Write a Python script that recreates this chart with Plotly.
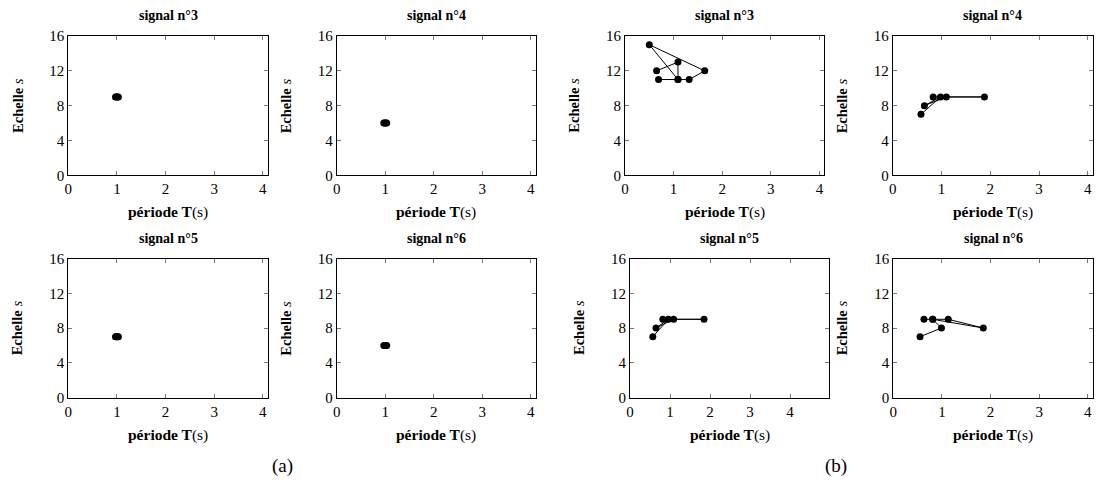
import plotly.graph_objects as go

# ---------------- data ----------------
titles = ["signal n°3", "signal n°4", "signal n°5", "signal n°6"]

# (a) panels: points clustered around T = 1 s
a3_T = [0.97, 0.99, 1.01, 1.03]
a3_s = [9, 9, 9, 9]
a4_T = [0.97, 0.99, 1.01, 1.03]
a4_s = [6, 6, 6, 6]
a5_T = [0.97, 0.99, 1.01, 1.03]
a5_s = [7, 7, 7, 7]
a6_T = [0.97, 0.99, 1.01, 1.03]
a6_s = [6, 6, 6, 6]

# (b) panels
b3_T = [0.65, 1.09, 1.09, 0.50, 1.64, 1.32, 1.09, 0.69]
b3_s = [12, 13, 11, 15, 12, 11, 11, 11]
b4_T = [0.83, 1.88, 1.10, 0.65, 0.98, 0.58]
b4_s = [9, 9, 9, 8, 9, 7]
b5_T = [0.82, 1.85, 1.09, 0.65, 0.96, 0.57]
b5_s = [9, 9, 9, 8, 9, 7]
b6_T = [0.55, 0.99, 0.81, 1.85, 1.13, 0.81, 0.63]
b6_s = [7, 8, 9, 8, 9, 9, 9]

x_ticks = [0, 1, 2, 3, 4]
y_ticks = [0, 4, 8, 12, 16]
x_range_default = [0, 4.1]
x_range_b5 = [0, 4.98]
y_range = [0, 16]

# ---------------- layout geometry (pixels) ----------------
W, H = 1096, 496
FONT = "Liberation Serif"

panels = [
    # (T, s, left, right, top, bottom, title, xrange)
    (a3_T, a3_s, 68.3, 267.7, 36.0, 175.3, titles[0], x_range_default),
    (a4_T, a4_s, 336.7, 535.7, 36.0, 175.3, titles[1], x_range_default),
    (b3_T, b3_s, 625.0, 824.3, 36.0, 175.3, titles[0], x_range_default),
    (b4_T, b4_s, 892.7, 1092.7, 36.0, 175.3, titles[1], x_range_default),
    (a5_T, a5_s, 68.3, 267.7, 258.5, 397.5, titles[2], x_range_default),
    (a6_T, a6_s, 336.7, 535.7, 258.5, 397.5, titles[3], x_range_default),
    (b5_T, b5_s, 630.0, 829.3, 258.5, 397.5, titles[2], x_range_b5),
    (b6_T, b6_s, 893.3, 1092.7, 258.5, 397.5, titles[3], x_range_default),
]

fig = go.Figure()
annotations = []
layout = {}


def label(text, px, py, size, angle=0):
    return dict(text=text, x=px / W, y=1 - py / H, xref="paper", yref="paper",
                xanchor="center", yanchor="middle", showarrow=False,
                textangle=angle, font=dict(family=FONT, size=size, color="black"))


for i, (T, s, l, r, t, b, title, xr) in enumerate(panels, start=1):
    xa = "x" if i == 1 else f"x{i}"
    ya = "y" if i == 1 else f"y{i}"
    fig.add_trace(go.Scatter(
        x=T, y=s, xaxis=xa, yaxis=ya, mode="lines+markers",
        line=dict(color="black", width=1),
        marker=dict(color="black", size=7),
        showlegend=False, hoverinfo="skip", cliponaxis=False,
    ))
    common = dict(
        showgrid=False, zeroline=False, showline=True, linecolor="black",
        linewidth=1, mirror="allticks", ticks="inside", ticklen=4,
        tickcolor="#777777", tickwidth=1, automargin=False,
        tickfont=dict(family=FONT, size=15, color="black"),
    )
    layout["xaxis" if i == 1 else f"xaxis{i}"] = dict(
        domain=[l / W, r / W], anchor=ya, range=xr,
        tickvals=x_ticks, **common)
    layout["yaxis" if i == 1 else f"yaxis{i}"] = dict(
        domain=[1 - b / H, 1 - t / H], anchor=xa, range=y_range,
        tickvals=y_ticks, **common)

    cx = (l + r) / 2
    cy = (t + b) / 2
    annotations.append(label(f"<b>{title}</b>", cx, t - 20, 14))
    annotations.append(label("<b>période T</b>(s)", cx, b + 37, 15.5))
    annotations.append(label("<b>Echelle</b> <i>s</i>", l - 51, cy, 14.5, -90))

annotations.append(label("(a)", 282, 466, 19))
annotations.append(label("(b)", 836, 466, 19))

fig.update_layout(
    width=W, height=H, margin=dict(l=0, r=0, t=0, b=0, pad=0, autoexpand=False),
    paper_bgcolor="white", plot_bgcolor="white",
    annotations=annotations, **layout,
)

fig.write_html(
    "out.html",
    config={"displayModeBar": False},
    post_script="document.body.style.margin='0';document.body.style.overflow='hidden';",
)
